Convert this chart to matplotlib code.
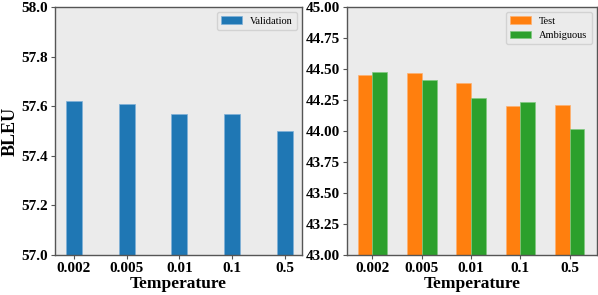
import numpy as np
import matplotlib.pyplot as plt

temps = ["0.002", "0.005", "0.01", "0.1", "0.5"]
valid = [57.62, 57.61, 57.57, 57.57, 57.50]
test = [44.45, 44.47, 44.39, 44.20, 44.21]
ambig = [44.48, 44.41, 44.27, 44.23, 44.02]

plt.rcParams['font.family'] = ['Liberation Serif', 'DejaVu Serif']

fig = plt.figure(figsize=(5.98, 2.95), dpi=100)
ax1 = fig.add_axes([0.092, 0.136, 0.413, 0.840])
ax2 = fig.add_axes([0.580, 0.136, 0.418, 0.840])

x = np.arange(len(temps))
w = 0.3
bg = '#EBEBEB'
spine = '#555555'

ax1.bar(x, valid, w, color='#1f77b4', edgecolor='#7fb0d8', linewidth=0.5, label='Validation')
ax1.set_ylim(57.0, 58.0)
ax1.set_yticks(np.arange(57.0, 58.01, 0.2))
ax1.set_yticklabels(["%.1f" % v for v in np.arange(57.0, 58.01, 0.2)])
ax1.set_ylabel('BLEU', fontsize=13, fontweight='bold', labelpad=2)

ax2.bar(x - w / 2, test, w, color='#ff7f0e', edgecolor='#ffb070', linewidth=0.5, label='Test')
ax2.bar(x + w / 2, ambig, w, color='#2ca02c', edgecolor='#80c880', linewidth=0.5, label='Ambiguous')
ax2.set_ylim(43.0, 45.0)
ax2.set_yticks(np.arange(43.0, 45.01, 0.25))
ax2.set_yticklabels(["%.2f" % v for v in np.arange(43.0, 45.01, 0.25)])

for ax in (ax1, ax2):
    ax.set_facecolor(bg)
    ax.set_xticks(x)
    ax.set_xticklabels(temps)
    ax.set_xlabel('Temperature', fontsize=12.5, fontweight='bold', labelpad=1)
    for s in ax.spines.values():
        s.set_color(spine)
        s.set_linewidth(1.0)
    ax.tick_params(colors=spine, labelcolor='black', length=3, width=0.8, pad=2)
    for lab in ax.get_xticklabels() + ax.get_yticklabels():
        lab.set_fontsize(11)
        lab.set_fontweight('bold')
    ax.legend(loc='upper right', fontsize=7.5, frameon=True, facecolor=bg,
              edgecolor='#cccccc', fancybox=True, handlelength=2.0)

ax1.set_xlim(-0.36, 4.33)
ax2.set_xlim(-0.52, 4.55)

fig.savefig('out.png', dpi=100)
